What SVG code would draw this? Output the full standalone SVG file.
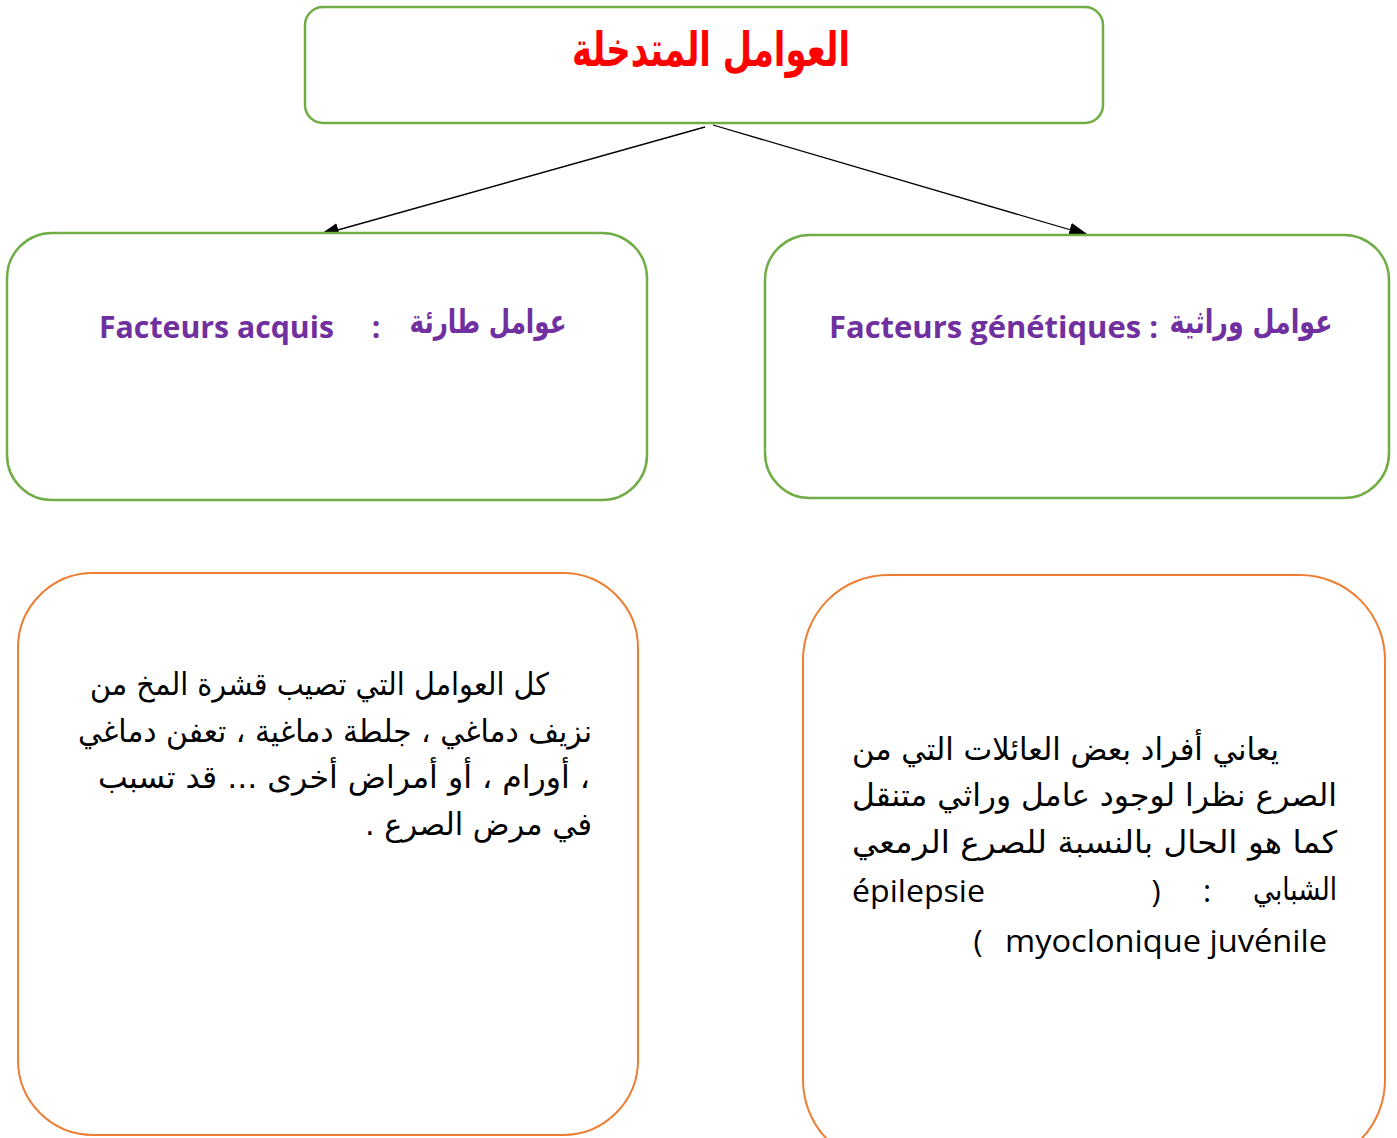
<svg xmlns="http://www.w3.org/2000/svg" width="1397" height="1138" viewBox="0 0 1397 1138">
<style>
.g{fill:#fff;stroke:#70AD47;stroke-width:2.5}
.o{fill:#fff;stroke:#ED7D31;stroke-width:2}
.ar{font-family:"DejaVu Sans",sans-serif;fill:#000}
.arb{font-family:"DejaVu Sans",sans-serif;font-weight:bold}
.lat{font-family:"Open Sans","Lato",sans-serif;fill:#000}
.pur{fill:#7030A0;font-family:"Open Sans","Lato",sans-serif;font-weight:bold}
.c{stroke:#000;stroke-width:1.3;fill:none;marker-end:url(#ah)}
</style>
<defs>
<marker id="ah" markerWidth="20" markerHeight="14" refX="19" refY="7" orient="auto" markerUnits="userSpaceOnUse">
<path d="M0,0 L20,7 L0,14 z" fill="#000"/>
</marker>
</defs>
<rect width="1397" height="1138" fill="#fff"/>
<g id="connectors">
<line class="c" x1="705" y1="127" x2="320" y2="235"/>
<line class="c" x1="713" y1="125" x2="1088" y2="235"/>
</g>
<g id="node-title">
<rect class="g" x="305" y="7" width="798" height="116" rx="18"/>
<text class="arb" x="711" y="66" font-size="48" fill="#FF0000" text-anchor="middle" direction="rtl" textLength="278" lengthAdjust="spacingAndGlyphs">العوامل المتدخلة</text>
</g>
<g id="node-acquis">
<rect class="g" x="7" y="233" width="640" height="267" rx="45"/>
<text class="pur" x="99" y="338" font-size="30" textLength="235" lengthAdjust="spacingAndGlyphs">Facteurs acquis</text>
<text class="pur" x="376" y="338" font-size="30" text-anchor="middle">:</text>
<text class="arb" x="488" y="333" font-size="33" fill="#7030A0" text-anchor="middle" direction="rtl" textLength="157" lengthAdjust="spacingAndGlyphs">عوامل طارئة</text>
</g>
<g id="node-genetiques">
<rect class="g" x="765" y="235" width="624" height="263" rx="45"/>
<text class="pur" x="829" y="338" font-size="30" textLength="329" lengthAdjust="spacingAndGlyphs">Facteurs génétiques :</text>
<text class="arb" x="1251" y="333" font-size="33" fill="#7030A0" text-anchor="middle" direction="rtl" textLength="163" lengthAdjust="spacingAndGlyphs">عوامل وراثية</text>
</g>
<g id="node-acquis-desc">
<rect class="o" x="18" y="573" width="620" height="562" rx="75"/>
<text class="ar" x="319.5" y="695" font-size="31" text-anchor="middle" direction="rtl" textLength="459" lengthAdjust="spacingAndGlyphs">كل العوامل التي تصيب قشرة المخ  من</text>
<text class="ar" x="335" y="742" font-size="31" text-anchor="middle" direction="rtl" textLength="514" lengthAdjust="spacingAndGlyphs">نزيف دماغي ، جلطة دماغية ، تعفن دماغي</text>
<text class="ar" x="344" y="788" font-size="31" text-anchor="middle" direction="rtl" textLength="492" lengthAdjust="spacingAndGlyphs">، أورام ، أو أمراض أخرى ...   قد تسبب</text>
<text class="ar" x="478.5" y="835" font-size="31" text-anchor="middle" direction="rtl" textLength="227" lengthAdjust="spacingAndGlyphs">في مرض الصرع .</text>
</g>
<g id="node-genetiques-desc">
<rect class="o" x="803" y="575" width="582" height="590" rx="85"/>
<text class="ar" x="1065.5" y="760" font-size="31" text-anchor="middle" direction="rtl" textLength="427" lengthAdjust="spacingAndGlyphs">يعاني أفراد بعض العائلات التي من</text>
<text class="ar" x="1094.5" y="806" font-size="31" text-anchor="middle" direction="rtl" textLength="485" lengthAdjust="spacingAndGlyphs">الصرع نظرا لوجود عامل وراثي متنقل</text>
<text class="ar" x="1094.5" y="853" font-size="31" text-anchor="middle" direction="rtl" textLength="485" lengthAdjust="spacingAndGlyphs">كما هو الحال بالنسبة للصرع الرمعي</text>
<text class="ar" x="1295" y="900" font-size="31" text-anchor="middle" direction="rtl" textLength="84" lengthAdjust="spacingAndGlyphs">الشبابي</text>
<text class="lat" x="1207" y="902" font-size="31" text-anchor="middle">:</text>
<text class="lat" x="1156" y="902" font-size="31" text-anchor="middle">)</text>
<text class="lat" x="852" y="902" font-size="31" textLength="133" lengthAdjust="spacingAndGlyphs">épilepsie</text>
<text class="lat" x="978" y="952" font-size="31" text-anchor="middle">(</text>
<text class="lat" x="1005" y="952" font-size="31" textLength="322" lengthAdjust="spacingAndGlyphs">myoclonique juvénile</text>
</g>
</svg>
